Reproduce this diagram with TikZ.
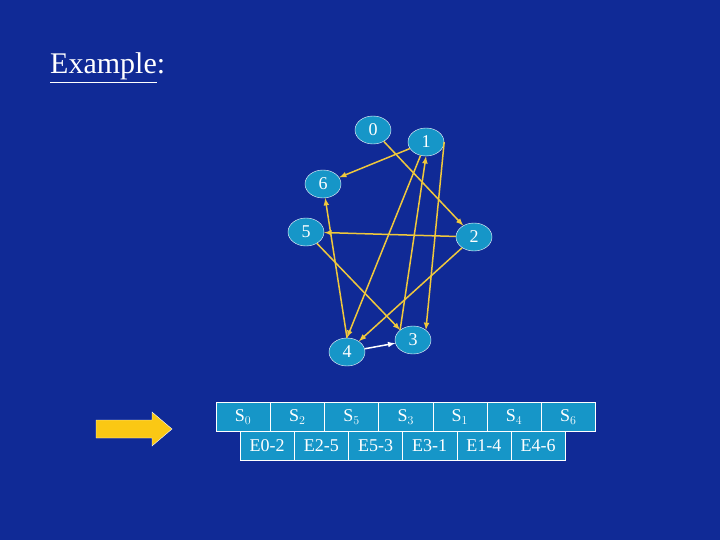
\documentclass[tikz,border=0pt]{standalone}
\usepackage{fontspec}
\setmainfont{Liberation Serif}
\usetikzlibrary{shapes,arrows,positioning}
\definecolor{bgblue}{RGB}{16,42,150}
\definecolor{nodecyan}{RGB}{22,150,200}
\definecolor{edgeyellow}{RGB}{240,200,60}
\definecolor{arrowgold}{RGB}{250,200,20}
\tikzset{
	vtx/.style={ellipse,draw=white,fill=nodecyan,text=white,minimum width=36pt,minimum height=28pt,inner sep=0pt,font=\fontsize{18}{18}\selectfont},
	edge/.style={draw=edgeyellow,line width=1.5pt,-latex},
	cell/.style={draw=white,fill=nodecyan,text=white,minimum width=54.2pt,minimum height=29pt,inner sep=0pt,font=\fontsize{18}{18}\selectfont}
}
\begin{document}
\begin{tikzpicture}[x=1pt,y=-1pt]
	\fill[bgblue] (0,0) rectangle (720,540);
	\useasboundingbox (0,0) rectangle (720,540);
	% title
	\node[anchor=base west,inner sep=0pt,text=white,font=\fontsize{30}{30}\selectfont] (title) at (50,74) {\underline{Example}:};
	%% the graph
	\node[vtx] (n0) at (373,130) {0};
	\node[vtx] (n1) at (426,142) {1};
	\node[vtx] (n6) at (323,184) {6};
	\node[vtx] (n5) at (306,232) {5};
	\node[vtx] (n2) at (474,237) {2};
	\node[vtx] (n3) at (413,340) {3};
	\node[vtx] (n4) at (347,352) {4};
	\draw[edge] (n0) -- (n2);
	\draw[edge] (n1) -- (n6);
	\draw[edge] (n1) -- (n4.north);
	\draw[edge] (n3.north west) -- (n1.south);
	\draw[edge] (n1.east) -- (n3.north east);
	\draw[edge] (n2) -- (n5);
	\draw[edge] (n5) -- (n3.north west);
	\draw[edge] (n2) -- (n4);
	\draw[edge] (n4.north) -- (n6);
	\draw[white,line width=1.5pt,-latex] (n4) -- (n3);
	%% the arrow
	\fill[arrowgold,draw=white] (96,420) -- (152,420) -- (152,412) -- (172,429) -- (152,446) -- (152,438) -- (96,438) -- cycle;
	%% the sequence
	\foreach \t [count=\i from 0] in {0,2,5,3,1,4,6}
		\node[cell] (s\i) at (243.1+54.2*\i,417) {S$_{\t}$};
	\foreach \t [count=\i from 0] in {0-2,2-5,5-3,3-1,1-4,4-6}
		\node[cell] (e\i) at (267.1+54.2*\i,446) {E\t};
\end{tikzpicture}
\end{document}
